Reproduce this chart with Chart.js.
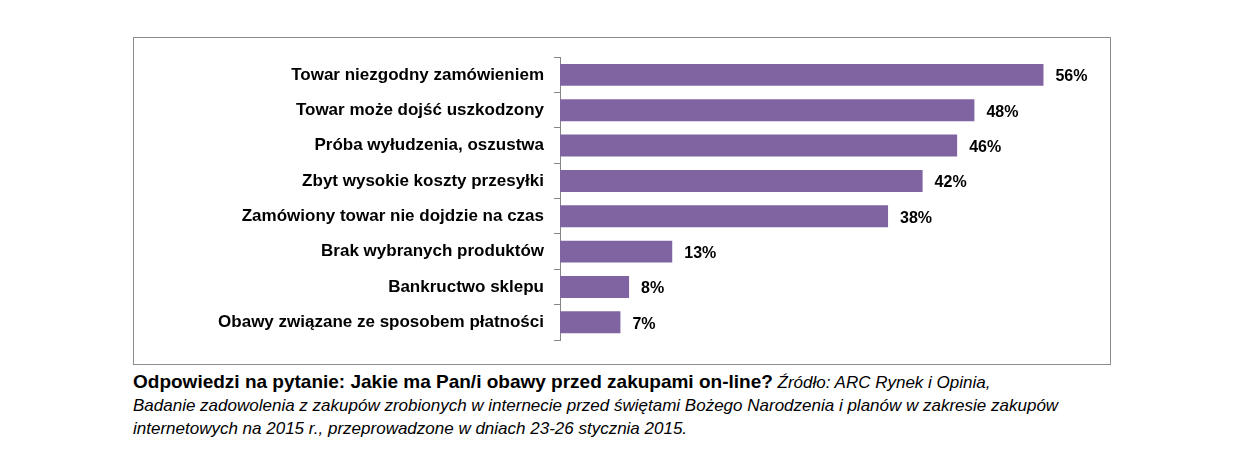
<!DOCTYPE html>
<html><head><meta charset="utf-8">
<script src="https://cdn.jsdelivr.net/npm/chart.js@4/dist/chart.umd.min.js"></script>
<style>
body{margin:0;background:#fff;width:1244px;height:466px;position:relative;font-family:"Liberation Sans",Arial,sans-serif}
#box{position:absolute;left:133px;top:37px;width:976px;height:326px;border:1px solid #8c8c8c}
#wrap{position:absolute;left:133px;top:37px;width:977px;height:327px}
#cap{position:absolute;left:133px;top:370px;width:1100px;font-size:17px;line-height:23px;color:#000}
#cap b{font-size:19px}
#cap i{font-size:17px}
</style></head><body>
<div id="box"></div>
<div id="wrap"><canvas id="c" width="977" height="327"></canvas></div>
<div id="cap"><b>Odpowiedzi na pytanie: Jakie ma Pan/i obawy przed zakupami on-line?</b> <i>Źródło: ARC Rynek i Opinia,<br>Badanie zadowolenia z zakupów zrobionych w internecie przed świętami Bożego Narodzenia i planów w zakresie zakupów<br>internetowych na 2015 r., przeprowadzone w dniach 23-26 stycznia 2015.</i></div>
<script>
// ── DATA ──
const categories = ['Towar niezgodny zamówieniem','Towar może dojść uszkodzony','Próba wyłudzenia, oszustwa','Zbyt wysokie koszty przesyłki','Zamówiony towar nie dojdzie na czas','Brak wybranych produktów','Bankructwo sklepu','Obawy związane ze sposobem płatności'];
const values = [56, 48, 46, 42, 38, 13, 8, 7];

const labelPlugin = {
  id:'labels',
  afterDatasetsDraw(chart){
    const ctx = chart.ctx;
    ctx.save();
    ctx.font = 'bold 16px "Liberation Sans", Arial, sans-serif';
    ctx.fillStyle = '#000'; ctx.textBaseline = 'middle';
    chart.getDatasetMeta(0).data.forEach((b,i) => ctx.fillText(values[i] + '%', b.x + 12, b.y + 2));
    ctx.restore();
  }
};

new Chart(document.getElementById('c'), {
  type:'bar',
  data:{ labels:categories, datasets:[{ data:values, backgroundColor:'#8064a2', barPercentage:0.62, categoryPercentage:1 }] },
  options:{
    indexAxis:'y', responsive:false, animation:false, devicePixelRatio:1,
    layout:{ padding:{ top:20, bottom:24, right:32 } },
    scales:{
      x:{ display:false, min:0, max:60 },
      y:{
        afterFit(s){ s.width = 427; },
        grid:{ drawOnChartArea:false, tickLength:6, color:'#868686' },
        border:{ color:'#868686' },
        ticks:{ color:'#000', padding:10, font:{ size:17, weight:'bold', family:'"Liberation Sans", Arial, sans-serif' } }
      }
    },
    plugins:{ legend:{display:false}, tooltip:{enabled:false} }
  },
  plugins:[labelPlugin]
});
</script>
</body></html>
